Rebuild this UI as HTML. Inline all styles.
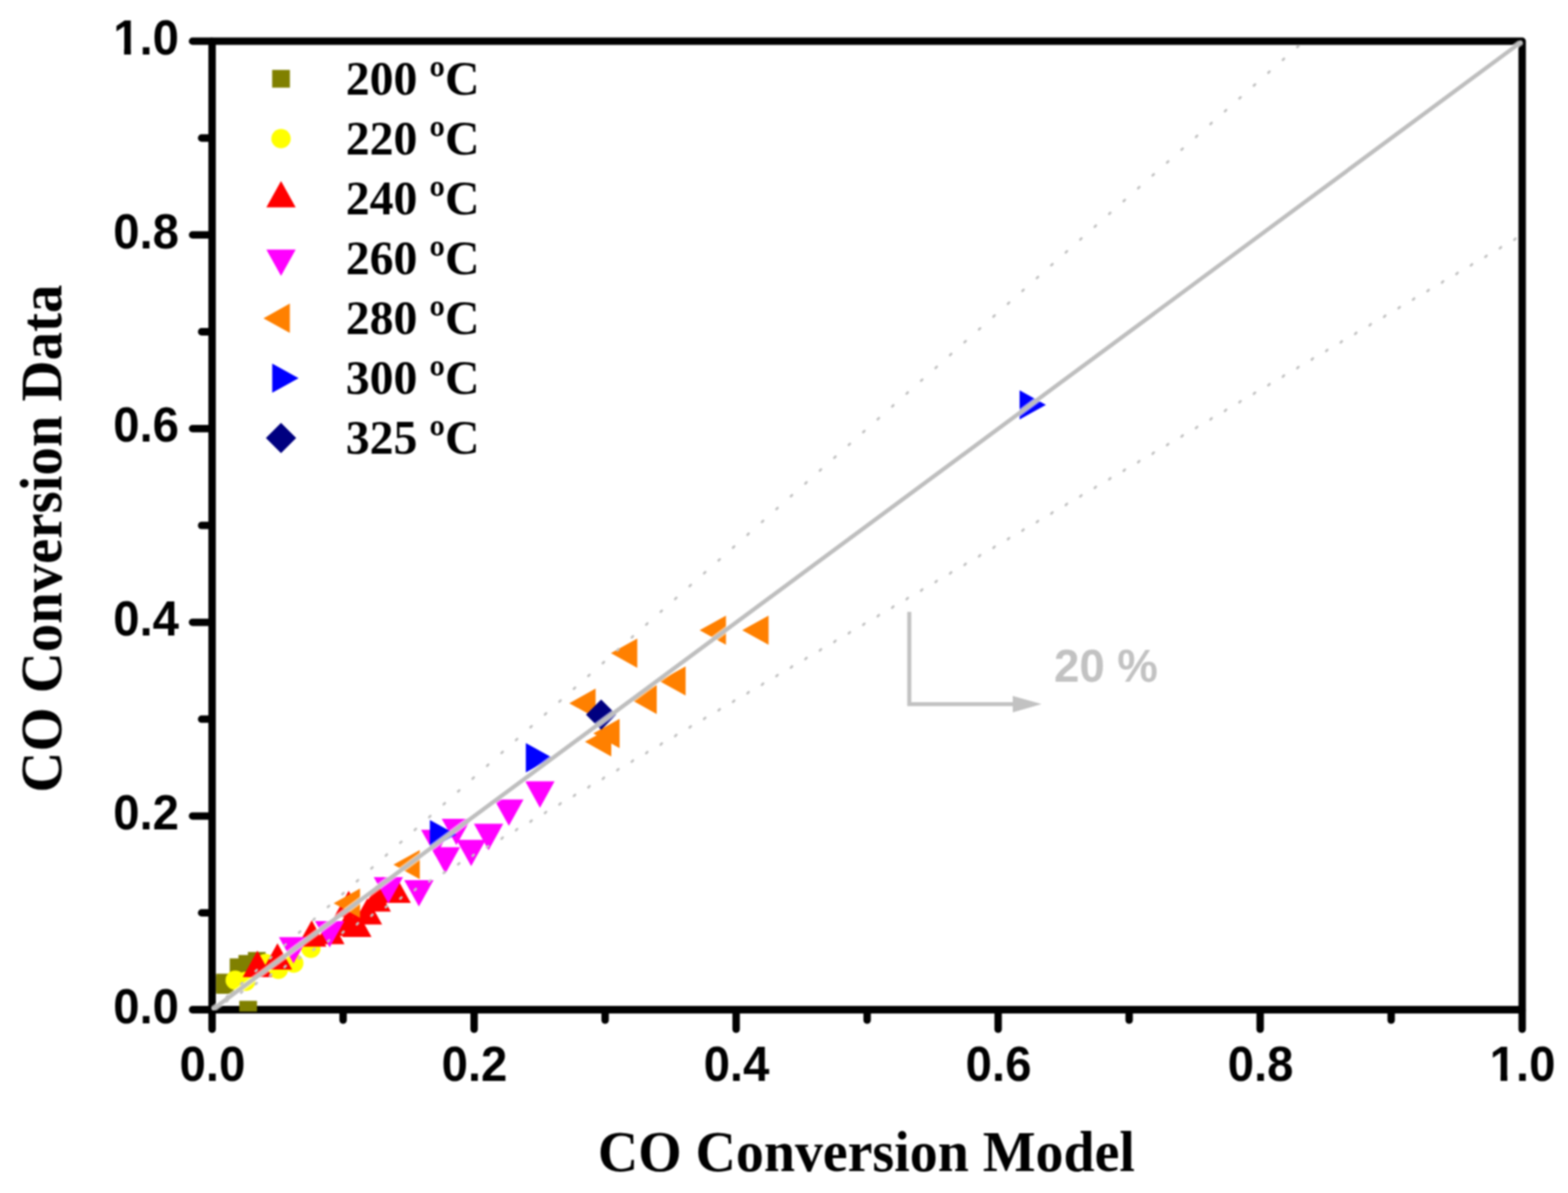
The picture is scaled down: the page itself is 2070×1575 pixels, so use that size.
<!DOCTYPE html>
<html lang="en"><head><meta charset="utf-8"><title>CO Conversion: Data vs Model</title>
<style>
html,body{margin:0;padding:0;background:#fff;}
body{width:2070px;height:1575px;overflow:hidden;}
svg{display:block;}
.tick{font-family:"Liberation Sans",sans-serif;font-weight:bold;font-size:64.4px;fill:#000;}
.ttl{font-family:"Liberation Serif",serif;font-weight:bold;fill:#000;}
.leg{font-family:"Liberation Serif",serif;font-weight:bold;font-size:63.5px;fill:#000;}
.ann{font-family:"Liberation Sans",sans-serif;font-weight:bold;font-size:62px;fill:#c2c2c2;}
</style></head><body>
<svg width="2070" height="1575" viewBox="0 0 2070 1575">
<defs><clipPath id="plot"><rect x="284.5" y="54.4" width="1725" height="1281.2"/></clipPath>
<clipPath id="frame"><rect x="279" y="53.4" width="1731.5" height="1280.6"/></clipPath>
<clipPath id="oneE"><path d="M-99.52 -80H10V-7.37H-99.52Z M-74.71 -7.87H-65.49V8H-74.71Z M-53.71 -7.87H10V8H-53.71Z"/></clipPath>
<clipPath id="oneM"><path d="M-54.76 -80H54.76V-7.37H-54.76Z M-29.95 -7.87H-20.73V8H-29.95Z M-8.95 -7.87H54.76V8H-8.95Z"/></clipPath>
<filter id="soft" filterUnits="userSpaceOnUse" x="0" y="0" width="2070" height="1575" color-interpolation-filters="sRGB"><feGaussianBlur stdDeviation="0.95"/></filter></defs>
<g filter="url(#soft)">
<rect x="-20" y="-20" width="2110" height="1615" fill="#fff"/>
<g fill="none" stroke="#000" stroke-width="9.8" stroke-linecap="round" stroke-linejoin="round">
<rect x="280" y="54.4" width="1729.5" height="1278.6"/>
<line x1="280" y1="1334.5" x2="280" y2="1358.8"/>
<line x1="278.5" y1="1333" x2="254.2" y2="1333"/>
<line x1="452.95" y1="1334.5" x2="452.95" y2="1346.8"/>
<line x1="278.5" y1="1205.14" x2="266.2" y2="1205.14"/>
<line x1="625.9" y1="1334.5" x2="625.9" y2="1358.8"/>
<line x1="278.5" y1="1077.28" x2="254.2" y2="1077.28"/>
<line x1="798.85" y1="1334.5" x2="798.85" y2="1346.8"/>
<line x1="278.5" y1="949.42" x2="266.2" y2="949.42"/>
<line x1="971.8" y1="1334.5" x2="971.8" y2="1358.8"/>
<line x1="278.5" y1="821.56" x2="254.2" y2="821.56"/>
<line x1="1144.75" y1="1334.5" x2="1144.75" y2="1346.8"/>
<line x1="278.5" y1="693.7" x2="266.2" y2="693.7"/>
<line x1="1317.7" y1="1334.5" x2="1317.7" y2="1358.8"/>
<line x1="278.5" y1="565.84" x2="254.2" y2="565.84"/>
<line x1="1490.65" y1="1334.5" x2="1490.65" y2="1346.8"/>
<line x1="278.5" y1="437.98" x2="266.2" y2="437.98"/>
<line x1="1663.6" y1="1334.5" x2="1663.6" y2="1358.8"/>
<line x1="278.5" y1="310.12" x2="254.2" y2="310.12"/>
<line x1="1836.55" y1="1334.5" x2="1836.55" y2="1346.8"/>
<line x1="278.5" y1="182.26" x2="266.2" y2="182.26"/>
<line x1="2009.5" y1="1334.5" x2="2009.5" y2="1358.8"/>
<line x1="278.5" y1="54.4" x2="254.2" y2="54.4"/>
</g>
<g class="tick">
<text transform="translate(280.5 1427) scale(0.97 1)" text-anchor="middle">0.0</text>
<text transform="translate(626.4 1427) scale(0.97 1)" text-anchor="middle">0.2</text>
<text transform="translate(972.3 1427) scale(0.97 1)" text-anchor="middle">0.4</text>
<text transform="translate(1318.2 1427) scale(0.97 1)" text-anchor="middle">0.6</text>
<text transform="translate(1664.1 1427) scale(0.97 1)" text-anchor="middle">0.8</text>
<text transform="translate(2010 1427) scale(0.97 1)" text-anchor="middle" clip-path="url(#oneM)">1.0</text>
<text transform="translate(236.3 1350.6) scale(0.97 1)" text-anchor="end">0.0</text>
<text transform="translate(236.3 1094.88) scale(0.97 1)" text-anchor="end">0.2</text>
<text transform="translate(236.3 839.16) scale(0.97 1)" text-anchor="end">0.4</text>
<text transform="translate(236.3 583.44) scale(0.97 1)" text-anchor="end">0.6</text>
<text transform="translate(236.3 327.72) scale(0.97 1)" text-anchor="end">0.8</text>
<text transform="translate(236.3 72) scale(0.97 1)" text-anchor="end" clip-path="url(#oneE)">1.0</text>
</g>
<text class="ttl" font-size="74" transform="translate(789.2 1545.7) scale(0.997 1.035)">CO Conversion Model</text>
<text class="ttl" font-size="75" transform="translate(80.5 1046.5) rotate(-90) scale(1 1.035)">CO Conversion Data</text>
<g clip-path="url(#plot)">
<g fill="#808000"><rect x="285.3" y="1285.5" width="23.4" height="23.4"/><rect x="285.3" y="1288.6" width="23.4" height="23.4"/><rect x="303.3" y="1265.3" width="23.4" height="23.4"/><rect x="314.8" y="1260.8" width="23.4" height="23.4"/><rect x="327.3" y="1256.8" width="23.4" height="23.4"/><rect x="315.9" y="1321.3" width="23.4" height="23.4"/></g>
<g fill="#ffff00"><circle cx="310.5" cy="1294" r="12.8"/><circle cx="324.4" cy="1295.5" r="12.8"/><circle cx="350.5" cy="1272" r="12.8"/><circle cx="367.5" cy="1279.8" r="12.8"/><circle cx="387.8" cy="1271.5" r="12.8"/><circle cx="410.4" cy="1252" r="12.8"/></g>
<g fill="#ff0000"><polygon points="339.8,1255.1 359.15,1289.9 320.45,1289.9"/><polygon points="366.3,1245.3 385.65,1280.1 346.95,1280.1"/><polygon points="411.5,1214.9 430.85,1249.7 392.15,1249.7"/><polygon points="432.89,1216.4 438.11,1216.4 454.85,1246.5 416.15,1246.5"/><polygon points="460,1200.6 479.35,1235.4 440.65,1235.4"/><polygon points="460.3,1175.9 479.65,1210.7 440.95,1210.7"/><polygon points="471.1,1202.1 490.45,1236.9 451.75,1236.9"/><polygon points="485.1,1185.8 504.45,1220.6 465.75,1220.6"/><polygon points="496.7,1168.8 516.05,1203.6 477.35,1203.6"/><polygon points="505,1157.2 524.35,1192 485.65,1192"/><polygon points="523,1157.2 542.35,1192 503.65,1192"/></g>
<g fill="#ff00ff"><polygon points="387.5,1272.1 406.85,1237.3 368.15,1237.3"/><polygon points="435.2,1250.8 454.55,1216 415.85,1216"/><polygon points="512.7,1192.8 532.05,1158 493.35,1158"/><polygon points="553,1196.8 572.35,1162 533.65,1162"/><polygon points="575.2,1130.3 594.55,1095.5 555.85,1095.5"/><polygon points="588,1153.2 607.35,1118.4 568.65,1118.4"/><polygon points="602.5,1115.8 621.85,1081 583.15,1081"/><polygon points="622,1143.5 641.35,1108.7 602.65,1108.7"/><polygon points="645,1122.4 664.35,1087.6 625.65,1087.6"/><polygon points="671.8,1090.3 691.15,1055.5 652.45,1055.5"/><polygon points="712.8,1066.4 732.15,1031.6 693.45,1031.6"/></g>
<g fill="#ff8000"><polygon points="440.5,1192.4 475.3,1173.05 475.3,1211.75"/><polygon points="519.4,1141.5 554.2,1122.15 554.2,1160.85"/><polygon points="751.5,928.4 786.3,909.05 786.3,947.75"/><polygon points="772.2,979.3 807,959.95 807,998.65"/><polygon points="783.2,968.3 818,948.95 818,987.65"/><polygon points="806.5,862.3 841.3,842.95 841.3,881.65"/><polygon points="832.2,923.3 867,903.95 867,942.65"/><polygon points="870.3,899 905.1,879.65 905.1,918.35"/><polygon points="923.6,832 958.4,812.65 958.4,851.35"/><polygon points="979.8,832 1014.6,812.65 1014.6,851.35"/></g>
<g fill="#0000ff"><polygon points="602.3,1101.8 567.5,1082.45 567.5,1121.15"/><polygon points="729,1000.3 694.2,980.95 694.2,1019.65"/><polygon points="1380.8,534.5 1346,515.15 1346,553.85"/></g>
<g fill="#000080"><polygon points="793.6,923.5 813.6,943.5 793.6,963.5 773.6,943.5"/></g>
</g>
<g clip-path="url(#frame)">
<line x1="280" y1="1333.2" x2="2009.5" y2="54.6" stroke="#fff" stroke-opacity="0.55" stroke-width="8.6"/>
<line x1="280" y1="1333.2" x2="2009.5" y2="54.6" stroke="#bebebe" stroke-width="5.4"/>
<path fill="none" stroke="#c2c2c2" stroke-width="3.2" stroke-linecap="round" d="M299.2 1316.06l1.6-1.6M318.3 1299.11l1.6-1.6M337.4 1282.17l1.6-1.6M356.5 1265.22l1.6-1.6M375.6 1248.28l1.6-1.6M394.7 1231.33l1.6-1.6M413.8 1214.39l1.6-1.6M432.9 1197.45l1.6-1.6M452 1180.5l1.6-1.6M471.1 1163.56l1.6-1.6M490.2 1146.61l1.6-1.6M509.3 1129.67l1.6-1.6M528.4 1112.72l1.6-1.6M547.5 1095.78l1.6-1.6M566.6 1078.83l1.6-1.6M585.7 1061.89l1.6-1.6M604.8 1044.95l1.6-1.6M623.9 1028l1.6-1.6M643 1011.06l1.6-1.6M662.1 994.11l1.6-1.6M681.2 977.17l1.6-1.6M700.3 960.22l1.6-1.6M719.4 943.28l1.6-1.6M738.5 926.33l1.6-1.6M757.6 909.39l1.6-1.6M776.7 892.44l1.6-1.6M795.8 875.5l1.6-1.6M814.9 858.56l1.6-1.6M834 841.61l1.6-1.6M853.1 824.67l1.6-1.6M872.2 807.72l1.6-1.6M891.3 790.78l1.6-1.6M910.4 773.83l1.6-1.6M929.5 756.89l1.6-1.6M948.6 739.94l1.6-1.6M967.7 723l1.6-1.6M986.8 706.06l1.6-1.6M1005.9 689.11l1.6-1.6M1025 672.17l1.6-1.6M1044.1 655.22l1.6-1.6M1063.2 638.28l1.6-1.6M1082.3 621.33l1.6-1.6M1101.4 604.39l1.6-1.6M1120.5 587.44l1.6-1.6M1139.6 570.5l1.6-1.6M1158.7 553.55l1.6-1.6M1177.8 536.61l1.6-1.6M1196.9 519.67l1.6-1.6M1216 502.72l1.6-1.6M1235.1 485.78l1.6-1.6M1254.2 468.83l1.6-1.6M1273.3 451.89l1.6-1.6M1292.4 434.94l1.6-1.6M1311.5 418l1.6-1.6M1330.6 401.05l1.6-1.6M1349.7 384.11l1.6-1.6M1368.8 367.17l1.6-1.6M1387.9 350.22l1.6-1.6M1407 333.28l1.6-1.6M1426.1 316.33l1.6-1.6M1445.2 299.39l1.6-1.6M1464.3 282.44l1.6-1.6M1483.4 265.5l1.6-1.6M1502.5 248.55l1.6-1.6M1521.6 231.61l1.6-1.6M1540.7 214.66l1.6-1.6M1559.8 197.72l1.6-1.6M1578.9 180.78l1.6-1.6M1598 163.83l1.6-1.6M1617.1 146.89l1.6-1.6M1636.2 129.94l1.6-1.6M1655.3 113l1.6-1.6M1674.4 96.05l1.6-1.6M1693.5 79.11l1.6-1.6M1712.6 62.16l1.6-1.6M299.2 1321.97l1.6-1.6M318.3 1310.68l1.6-1.6M337.4 1299.38l1.6-1.6M356.5 1288.08l1.6-1.6M375.6 1276.79l1.6-1.6M394.7 1265.49l1.6-1.6M413.8 1254.19l1.6-1.6M432.9 1242.9l1.6-1.6M452 1231.6l1.6-1.6M471.1 1220.3l1.6-1.6M490.2 1209.01l1.6-1.6M509.3 1197.71l1.6-1.6M528.4 1186.42l1.6-1.6M547.5 1175.12l1.6-1.6M566.6 1163.82l1.6-1.6M585.7 1152.53l1.6-1.6M604.8 1141.23l1.6-1.6M623.9 1129.93l1.6-1.6M643 1118.64l1.6-1.6M662.1 1107.34l1.6-1.6M681.2 1096.04l1.6-1.6M700.3 1084.75l1.6-1.6M719.4 1073.45l1.6-1.6M738.5 1062.16l1.6-1.6M757.6 1050.86l1.6-1.6M776.7 1039.56l1.6-1.6M795.8 1028.27l1.6-1.6M814.9 1016.97l1.6-1.6M834 1005.67l1.6-1.6M853.1 994.38l1.6-1.6M872.2 983.08l1.6-1.6M891.3 971.79l1.6-1.6M910.4 960.49l1.6-1.6M929.5 949.19l1.6-1.6M948.6 937.9l1.6-1.6M967.7 926.6l1.6-1.6M986.8 915.3l1.6-1.6M1005.9 904.01l1.6-1.6M1025 892.71l1.6-1.6M1044.1 881.41l1.6-1.6M1063.2 870.12l1.6-1.6M1082.3 858.82l1.6-1.6M1101.4 847.53l1.6-1.6M1120.5 836.23l1.6-1.6M1139.6 824.93l1.6-1.6M1158.7 813.64l1.6-1.6M1177.8 802.34l1.6-1.6M1196.9 791.04l1.6-1.6M1216 779.75l1.6-1.6M1235.1 768.45l1.6-1.6M1254.2 757.15l1.6-1.6M1273.3 745.86l1.6-1.6M1292.4 734.56l1.6-1.6M1311.5 723.27l1.6-1.6M1330.6 711.97l1.6-1.6M1349.7 700.67l1.6-1.6M1368.8 689.38l1.6-1.6M1387.9 678.08l1.6-1.6M1407 666.78l1.6-1.6M1426.1 655.49l1.6-1.6M1445.2 644.19l1.6-1.6M1464.3 632.9l1.6-1.6M1483.4 621.6l1.6-1.6M1502.5 610.3l1.6-1.6M1521.6 599.01l1.6-1.6M1540.7 587.71l1.6-1.6M1559.8 576.41l1.6-1.6M1578.9 565.12l1.6-1.6M1598 553.82l1.6-1.6M1617.1 542.52l1.6-1.6M1636.2 531.23l1.6-1.6M1655.3 519.93l1.6-1.6M1674.4 508.64l1.6-1.6M1693.5 497.34l1.6-1.6M1712.6 486.04l1.6-1.6M1731.7 474.75l1.6-1.6M1750.8 463.45l1.6-1.6M1769.9 452.15l1.6-1.6M1789 440.86l1.6-1.6M1808.1 429.56l1.6-1.6M1827.2 418.26l1.6-1.6M1846.3 406.97l1.6-1.6M1865.4 395.67l1.6-1.6M1884.5 384.38l1.6-1.6M1903.6 373.08l1.6-1.6M1922.7 361.78l1.6-1.6M1941.8 350.49l1.6-1.6M1960.9 339.19l1.6-1.6M1980 327.89l1.6-1.6M1999.1 316.6l1.6-1.6"/>
</g>
<g fill="none" stroke="#c2c2c2" stroke-width="5.4"><polyline points="1200.4,807.8 1200.4,929.6 1340,929.6"/></g>
<polygon fill="#c2c2c2" points="1375,929.6 1337,918.7 1337,940.5"/>
<text class="ann" transform="translate(1391.5 900) scale(0.97 1)">20 %</text>
<g fill="#808000"><rect x="359.3" y="92.3" width="23.4" height="23.4"/></g>
<text class="leg" transform="translate(456.6 124.9) scale(0.992 1)">200 ºC</text>
<g fill="#ffff00"><circle cx="371" cy="183.05" r="12.8"/></g>
<text class="leg" transform="translate(456.6 203.95) scale(0.992 1)">220 ºC</text>
<g fill="#ff0000"><polygon points="371,238.9 390.35,273.7 351.65,273.7"/></g>
<text class="leg" transform="translate(456.6 283) scale(0.992 1)">240 ºC</text>
<g fill="#ff00ff"><polygon points="371,364.35 390.35,329.55 351.65,329.55"/></g>
<text class="leg" transform="translate(456.6 362.05) scale(0.992 1)">260 ºC</text>
<g fill="#ff8000"><polygon points="347.8,420.2 382.6,400.85 382.6,439.55"/></g>
<text class="leg" transform="translate(456.6 441.1) scale(0.992 1)">280 ºC</text>
<g fill="#0000ff"><polygon points="394.2,499.25 359.4,479.9 359.4,518.6"/></g>
<text class="leg" transform="translate(456.6 520.15) scale(0.992 1)">300 ºC</text>
<g fill="#000080"><polygon points="371,558.3 391,578.3 371,598.3 351,578.3"/></g>
<text class="leg" transform="translate(456.6 599.2) scale(0.992 1)">325 ºC</text>
</g>
</svg></body></html>
